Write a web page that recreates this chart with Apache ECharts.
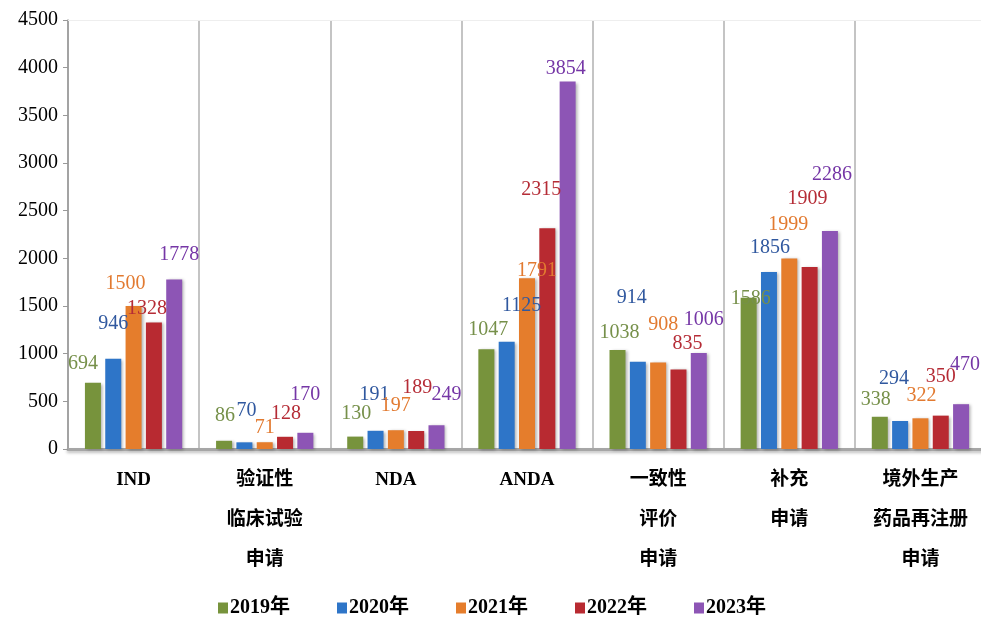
<!DOCTYPE html>
<html>
<head>
<meta charset="utf-8">
<script src="https://cdn.jsdelivr.net/npm/echarts@6/dist/echarts.min.js"></script>
<style>
  html, body { margin: 0; padding: 0; background: #fff; }
  #chart { width: 981px; height: 618px; }
</style>
</head>
<body>
<div id="chart"></div>
<script>
// 数据
const categories = ['IND', '验证性\n临床试验\n申请', 'NDA', 'ANDA', '一致性\n评价\n申请', '补充\n申请', '境外生产\n药品再注册\n申请']
const years = ['2019年', '2020年', '2021年', '2022年', '2023年']
const v2019 = [694, 86, 130, 1047, 1038, 1586, 338]
const v2020 = [946, 70, 191, 1125, 914, 1856, 294]
const v2021 = [1500, 71, 197, 1791, 908, 1999, 322]
const v2022 = [1328, 128, 189, 2315, 835, 1909, 350]
const v2023 = [1778, 170, 249, 3854, 1006, 2286, 470]
const yTicks = [0, 500, 1000, 1500, 2000, 2500, 3000, 3500, 4000, 4500]

// 样式
const barColors = ['#77933c', '#2e75c8', '#e57d2c', '#b82a31', '#8d55b5']
const labelColors = ['#76904a', '#30589f', '#e27a30', '#b52c36', '#7536a6']
// 数字标签的偏移 [dx, dy]，按年份、按类别
const labelShift = [
  [[-10, -6], [1, -12], [1, -10], [2, -6], [2, -4], [2, 14], [-4, -4]],
  [[0, -22], [2, -19], [-1, -23], [15, -23], [-6, -51], [1, -11], [-6, -29]],
  [[-8, -9], [0, -1], [0, -11], [10, 5], [5, -25], [-1, -21], [1, -10]],
  [[-7, -1], [1, -10], [1, -30], [-6, -26], [9, -13], [-2, -55], [0, -26]],
  [[5, -12], [0, -25], [10, -18], [-2, 0], [5, -20], [2, -43], [4, -26]]
]
const serif = "'Liberation Serif', 'Times New Roman', 'Noto Sans CJK SC', serif"
const seriesValues = [v2019, v2020, v2021, v2022, v2023]

const chart = echarts.init(document.getElementById('chart'))

const series = seriesValues.map((vals, i) => ({
  name: years[i],
  type: 'bar',
  barWidth: 16,
  barGap: '27%',
  itemStyle: {
    color: barColors[i],
    shadowBlur: 3,
    shadowColor: 'rgba(0,0,0,0.3)',
    shadowOffsetX: 2,
    shadowOffsetY: 1
  },
  data: vals.map((v, j) => ({
    value: v,
    label: { offset: labelShift[i][j] }
  })),
  label: {
    show: true,
    position: 'top',
    distance: 3,
    color: labelColors[i],
    fontFamily: serif,
    fontSize: 20
  }
}))

const option = {
  animation: false,
  backgroundColor: '#fff',
  grid: { left: 68, top: 20, width: 918, bottom: 169, outerBoundsMode: 'none' },
  legend: {
    data: years,
    left: 213,
    top: 593,
    itemWidth: 10,
    itemHeight: 11,
    itemGap: 47,
    icon: 'rect',
    textStyle: { fontFamily: serif, fontSize: 20, fontWeight: 'bold', color: '#000', padding: [0, 0, 0, -3] }
  },
  xAxis: [
    {
      type: 'category',
      data: categories,
      axisLine: {
        lineStyle: { color: '#a6a6a6', width: 3, shadowBlur: 3, shadowColor: 'rgba(0,0,0,0.25)', shadowOffsetY: 2 }
      },
      axisTick: { show: false },
      splitLine: { show: true, interval: 0, lineStyle: { color: '#b0b0b0', width: 1.5 } },
      axisLabel: {
        interval: 0,
        margin: 11,
        color: '#000',
        fontFamily: serif,
        fontSize: 19,
        fontWeight: 'bold',
        lineHeight: 40
      }
    },
    {
      type: 'category',
      position: 'top',
      data: categories,
      axisLine: { lineStyle: { color: '#eeeeee', width: 1 } },
      axisTick: { show: false },
      axisLabel: { show: false }
    }
  ],
  yAxis: {
    type: 'value',
    min: yTicks[0],
    max: yTicks[yTicks.length - 1],
    interval: 500,
    axisLine: { show: true, lineStyle: { color: '#999', width: 1.5 } },
    axisTick: { show: true, length: 5, lineStyle: { color: '#999' } },
    splitLine: { show: false },
    axisLabel: {
      color: '#000',
      fontFamily: serif,
      fontSize: 20,
      margin: 10,
      formatter: (v) => String(v)
    }
  },
  series: series
}

chart.setOption(option)
</script>
</body>
</html>
